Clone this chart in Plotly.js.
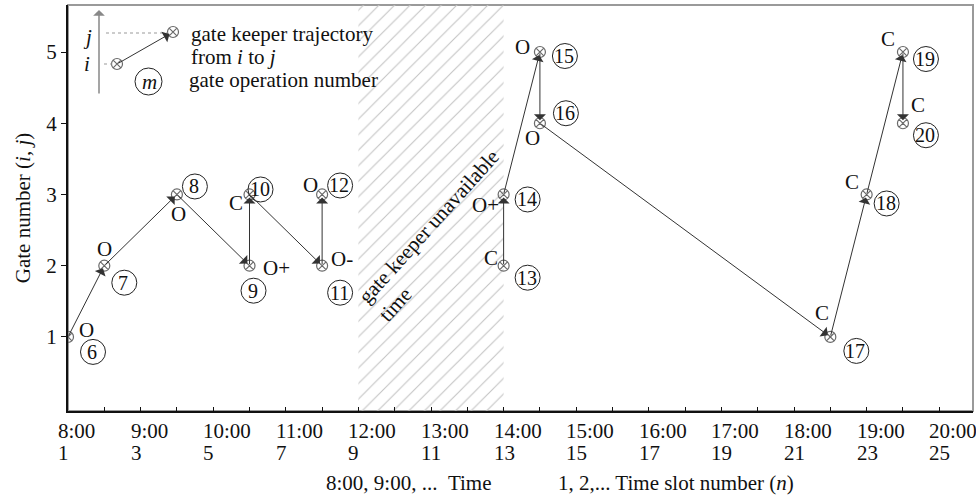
<!DOCTYPE html>
<html>
<head>
<meta charset="utf-8">
<script src="https://cdn.plot.ly/plotly-3.0.1.min.js"></script>
<style>html,body{margin:0;padding:0;background:#fff;}#chart{width:976px;height:500px;}</style>
</head>
<body>
<div id="chart"></div>
<script>
// ---- data ----
const opNumbers = [6, 7, 8, 9, 10, 11, 12, 13, 14, 15, 16, 17, 18, 19, 20];
const opSlots   = [1, 2, 4, 6, 6, 8, 8, 13, 13, 14, 14, 22, 23, 24, 24];
const opGates   = [1, 2, 3, 2, 3, 2, 3, 2, 3, 5, 4, 1, 3, 5, 4];
const opTypes   = ['O', 'O', 'O', 'O+', 'C', 'O-', 'O', 'C', 'O+', 'O', 'O', 'C', 'C', 'C', 'C'];
// trajectory segments (operation numbers, walked in order)
const trajectoryA = [6, 7, 8, 9, 10, 11, 12];
const trajectoryB = [13, 14, 15, 16, 17, 18, 19, 20];
// gate keeper unavailable time (slot numbers)
const unavailStart = 9;
const unavailEnd = 13;
// x tick labels
const tickSlots = [1, 3, 5, 7, 9, 11, 13, 15, 17, 19, 21, 23, 25];
const tickTimes = ['8:00', '9:00', '10:00', '11:00', '12:00', '13:00', '14:00', '15:00', '16:00', '17:00', '18:00', '19:00', '20:00'];
const yTicks = [1, 2, 3, 4, 5];

// ---- style (pixel offsets of labels relative to their point: [dx, dyDown]) ----
const circleOffsets = [[25,15],[20,17],[18,-8],[4,25],[11,-5],[18,27],[18,-9],[24,12],[24,5],[25,4],[26,-10],[26,14],[20,9],[23,7],[23,12]];
const letterOffsets = [[18,-7],[0,-17],[2,20],[27,2],[-14,9],[20,-7],[-12,-9],[-13,-8],[-18,11],[-17,-5],[-7,15],[-8,-24],[-15,-12],[-15,-13],[15,-18]];

const FONT = 'Liberation Serif, Times New Roman, serif';
const FS = 21;
const xRange = [1, 25.93];
const yRange = [-0.04, 5.66];
const M = {l: 68, r: 3, t: 5, b: 89};
const W = 976, H = 500;
const PW = W - M.l - M.r, PH = H - M.t - M.b;
const px = v => (v - M.l) / PW;          // page pixel -> paper x
const py = v => (H - M.b - v) / PH;      // page pixel -> paper y

const traces = [];
// hatched unavailable band
traces.push({
  x: [unavailStart, unavailEnd, unavailEnd, unavailStart, unavailStart],
  y: [yRange[0], yRange[0], yRange[1], yRange[1], yRange[0]],
  mode: 'lines', fill: 'toself', line: {width: 0},
  fillcolor: 'rgba(0,0,0,0)',
  fillpattern: {shape: '/', fgcolor: '#c4c4c4', bgcolor: 'rgba(255,255,255,0)', size: 11, solidity: 0.1},
  hoverinfo: 'skip', showlegend: false
});
// gate operation points
traces.push({
  x: opSlots, y: opGates, mode: 'markers', showlegend: false, hoverinfo: 'skip',
  marker: {symbol: 'circle-x-open', size: 11, color: '#6a6a6a', line: {width: 1.2}}
});
// legend sample markers (overlay paper-like axes)
traces.push({
  x: [px(117), px(173)], y: [py(64), py(32)], xaxis: 'x2', yaxis: 'y2',
  mode: 'markers', showlegend: false, hoverinfo: 'skip',
  marker: {symbol: 'circle-x-open', size: 11, color: '#6a6a6a', line: {width: 1.2}}
});

const annotations = [];
const shapes = [];

// plot frame (gray top/right)
shapes.push({type: 'rect', xref: 'paper', yref: 'paper', x0: 0, x1: 1, y0: 0, y1: 1,
  line: {color: '#9a9a9a', width: 2}, layer: 'below'});

// trajectory arrows
function addTrajectory(seq) {
  for (let k = 0; k + 1 < seq.length; k++) {
    const a = opNumbers.indexOf(seq[k]), b = opNumbers.indexOf(seq[k + 1]);
    annotations.push({
      x: opSlots[b], y: opGates[b], ax: opSlots[a], ay: opGates[a],
      xref: 'x', yref: 'y', axref: 'x', ayref: 'y', text: '',
      showarrow: true, arrowhead: 1, arrowsize: 2, arrowwidth: 1, arrowcolor: '#333', standoff: 3
    });
  }
}
addTrajectory(trajectoryA);
addTrajectory(trajectoryB);

// operation labels and circled numbers
opNumbers.forEach((n, i) => {
  const [cdx, cdy] = circleOffsets[i];
  const [ldx, ldy] = letterOffsets[i];
  shapes.push({type: 'circle', xref: 'x', yref: 'y', xsizemode: 'pixel', ysizemode: 'pixel',
    xanchor: opSlots[i], yanchor: opGates[i], x0: cdx - 12.5, x1: cdx + 12.5, y0: -cdy - 12.5, y1: -cdy + 12.5,
    line: {color: '#222', width: 1}});
  annotations.push({x: opSlots[i], y: opGates[i], xref: 'x', yref: 'y', text: String(n), showarrow: false,
    xshift: cdx - 1, yshift: -cdy, xanchor: 'center', yanchor: 'middle', font: {family: FONT, size: 20, color: '#111'}});
  annotations.push({x: opSlots[i], y: opGates[i], xref: 'x', yref: 'y', text: opTypes[i], showarrow: false,
    xshift: ldx, yshift: -ldy, xanchor: 'center', yanchor: 'middle', font: {family: FONT, size: FS, color: '#111'}});
});

// unavailable time label
annotations.push({x: 11.22, y: 2.42, xref: 'x', yref: 'y', text: 'gate keeper unavailable<br>time',
  showarrow: false, textangle: -48, align: 'left', xanchor: 'center', yanchor: 'middle',
  font: {family: FONT, size: FS, color: '#111'}});

// x tick labels (time line and slot line, left aligned)
tickSlots.forEach((s, i) => {
  annotations.push({x: s, y: py(431), xref: 'x', yref: 'paper', text: tickTimes[i],
    showarrow: false, xanchor: 'left', yanchor: 'middle', xshift: -12,
    font: {family: FONT, size: FS, color: '#111'}});
  annotations.push({x: s, y: py(453), xref: 'x', yref: 'paper', text: String(s),
    showarrow: false, xanchor: 'left', yanchor: 'middle', xshift: -12,
    font: {family: FONT, size: FS, color: '#111'}});
});

// bottom captions
annotations.push({x: px(494), y: py(483), xref: 'paper', yref: 'paper', text: '8:00, 9:00, ...&nbsp;&nbsp;Time',
  showarrow: false, xanchor: 'right', yanchor: 'middle', font: {family: FONT, size: FS, color: '#111'}});
annotations.push({x: px(556), y: py(483), xref: 'paper', yref: 'paper', text: '1, 2,... Time slot number (<i>n</i>)',
  showarrow: false, xanchor: 'left', yanchor: 'middle', font: {family: FONT, size: FS, color: '#111'}});

// legend key
annotations.push({x: px(99), y: py(10), xref: 'paper', yref: 'paper', ax: 0, ay: 85, text: '',
  showarrow: true, arrowhead: 1, arrowsize: 1.3, arrowwidth: 1.5, arrowcolor: '#888'});
annotations.push({x: px(173), y: py(32), xref: 'paper', yref: 'paper', ax: -56, ay: 32, text: '',
  showarrow: true, arrowhead: 1, arrowsize: 2, arrowwidth: 1, arrowcolor: '#333', standoff: 4});
shapes.push({type: 'line', xref: 'paper', yref: 'paper', x0: px(106), x1: px(168), y0: py(33), y1: py(33),
  line: {color: '#999', width: 1.2, dash: 'dot'}});
shapes.push({type: 'line', xref: 'paper', yref: 'paper', x0: px(104), x1: px(112), y0: py(64), y1: py(64),
  line: {color: '#999', width: 1.2, dash: 'dot'}});
annotations.push({x: px(87), y: py(37), xref: 'paper', yref: 'paper', text: '<i>j</i>', showarrow: false,
  xanchor: 'center', yanchor: 'middle', font: {family: FONT, size: FS, color: '#111'}});
annotations.push({x: px(87), y: py(64), xref: 'paper', yref: 'paper', text: '<i>i</i>', showarrow: false,
  xanchor: 'center', yanchor: 'middle', font: {family: FONT, size: FS, color: '#111'}});
shapes.push({type: 'circle', xref: 'paper', yref: 'paper', x0: px(135), x1: px(162), y0: py(95), y1: py(68),
  line: {color: '#222', width: 1}});
annotations.push({x: px(149), y: py(82), xref: 'paper', yref: 'paper', text: '<i>m</i>', showarrow: false,
  xanchor: 'center', yanchor: 'middle', font: {family: FONT, size: FS, color: '#111'}});
annotations.push({x: px(189), y: py(34), xref: 'paper', yref: 'paper', text: 'gate keeper trajectory', showarrow: false,
  xanchor: 'left', yanchor: 'middle', font: {family: FONT, size: FS, color: '#111'}});
annotations.push({x: px(189), y: py(57), xref: 'paper', yref: 'paper', text: 'from <i>i</i> to <i>j</i>', showarrow: false,
  xanchor: 'left', yanchor: 'middle', font: {family: FONT, size: FS, color: '#111'}});
annotations.push({x: px(187), y: py(80), xref: 'paper', yref: 'paper', text: 'gate operation number', showarrow: false,
  xanchor: 'left', yanchor: 'middle', font: {family: FONT, size: FS, color: '#111'}});

const layout = {
  width: W, height: H, margin: M, paper_bgcolor: '#fff', plot_bgcolor: '#fff',
  showlegend: false, font: {family: FONT, size: FS, color: '#111'},
  xaxis: {range: xRange, showgrid: false, zeroline: false, showline: true, linecolor: '#111', linewidth: 2,
    ticks: 'inside', tick0: 1, dtick: 1, ticklen: 4, tickcolor: '#111', tickwidth: 1, showticklabels: false, fixedrange: true},
  yaxis: {range: yRange, showgrid: false, zeroline: false, showline: true, linecolor: '#111', linewidth: 2,
    tickvals: yTicks, ticks: 'outside', ticklen: 5, tickcolor: '#111', tickwidth: 1,
    tickfont: {family: FONT, size: FS, color: '#111'}, fixedrange: true,
    title: {text: 'Gate number (<i>i</i>, <i>j</i>)', font: {family: FONT, size: 21, color: '#111'}, standoff: 10}},
  xaxis2: {range: [0, 1], overlaying: 'x', visible: false, fixedrange: true},
  yaxis2: {range: [0, 1], overlaying: 'y', visible: false, fixedrange: true},
  shapes: shapes, annotations: annotations
};

Plotly.newPlot('chart', traces, layout, {staticPlot: true, displayModeBar: false});
</script>
</body>
</html>
